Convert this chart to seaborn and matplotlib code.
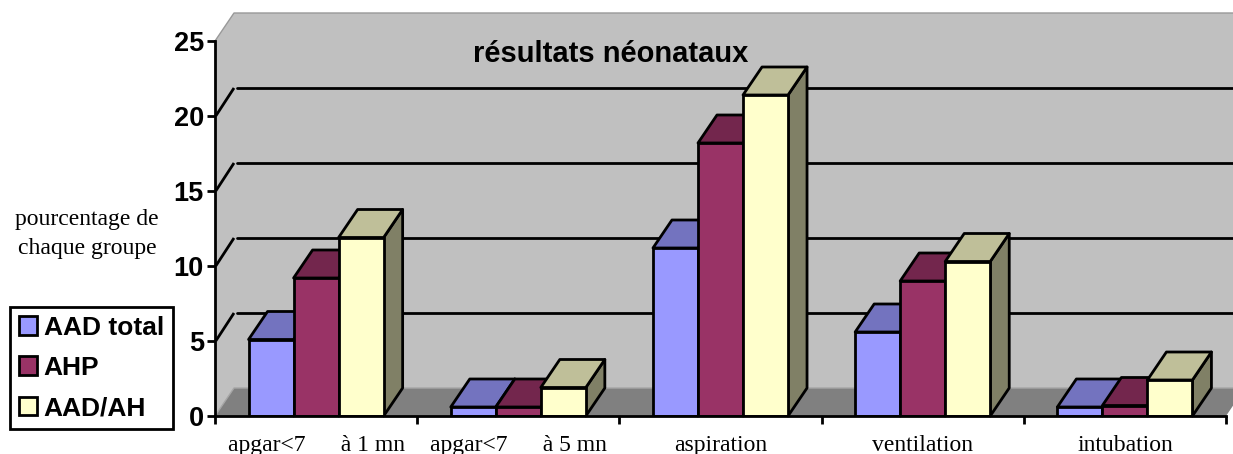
import matplotlib
matplotlib.use("Agg")
import matplotlib.pyplot as plt
import pandas as pd
import seaborn as sns
from matplotlib.colors import to_rgb

categories = ["apgar<7      à 1 mn", "apgar<7      à 5 mn", "aspiration", "ventilation", "intubation"]
aad_total = [5.1, 0.6, 11.2, 5.6, 0.6]
ahp = [9.2, 0.6, 18.2, 9.0, 0.7]
aad_ah = [11.9, 1.9, 21.4, 10.3, 2.4]
series_names = ["AAD total", "AHP", "AAD/AH"]
series_colors = ["#9999ff", "#993366", "#ffffcc"]
y_ticks = [0, 5, 10, 15, 20, 25]

WIDTH, HEIGHT = 1233, 454
LEFT, RIGHT, TOP, BOTTOM = 215, 1226, 41, 416
DEPTH_X, DEPTH_Y = 19, 28
BLACK_LW = 2.0


def shade(color, factor):
    return tuple(c * factor for c in to_rgb(color))


def main():
    sns.set_theme(style="white")
    plt.rcParams["font.family"] = ["Liberation Sans", "DejaVu Sans"]

    df = pd.DataFrame({"category": categories, "AAD total": aad_total, "AHP": ahp, "AAD/AH": aad_ah})
    long_df = df.melt(id_vars="category", var_name="series", value_name="value")

    fig = plt.figure(figsize=(WIDTH / 100, HEIGHT / 100), dpi=100)
    ax = fig.add_axes([LEFT / WIDTH, 1 - BOTTOM / HEIGHT, (RIGHT - LEFT) / WIDTH, (BOTTOM - TOP) / HEIGHT])
    ax.patch.set_visible(False)

    sns.barplot(
        data=long_df,
        x="category",
        y="value",
        hue="series",
        hue_order=series_names,
        palette=series_colors,
        width=0.668,
        gap=0,
        saturation=1,
        edgecolor="black",
        linewidth=BLACK_LW,
        ax=ax,
    )
    ax.set_xlim(-0.5, 4.5)
    ax.set_ylim(0, 25)

    # pixel depth of the fake 3D, converted to data units
    dx = DEPTH_X / ((RIGHT - LEFT) / 5)
    dy = DEPTH_Y / ((BOTTOM - TOP) / 25)
    x0, x1 = -0.5, 4.5

    # back wall and floor
    ax.fill([x0, x0 + dx, x1 + dx, x1 + dx, x0 + dx, x0], [25, 25 + dy, 25 + dy, dy, dy, 0],
            color="#c0c0c0", lw=0, clip_on=False, zorder=0.1)
    ax.fill([x0, x0 + dx, x1 + dx, x1], [0, dy, dy, 0], color="#808080", lw=0, clip_on=False, zorder=0.2)
    ax.plot([x0, x0 + dx, x1 + dx], [25, 25 + dy, 25 + dy], color="#999999", lw=1, clip_on=False, zorder=0.3)
    ax.plot([x0, x0 + dx, x1 + dx], [0, dy, dy], color="#a6a6a6", lw=1, clip_on=False, zorder=0.3)

    for v in y_ticks[1:-1]:
        ax.plot([x0 + 0.04 * dx, x0 + dx], [v, v + dy], color="black", lw=BLACK_LW, clip_on=False, zorder=0.4,
                solid_capstyle="butt")
        ax.plot([x0 + 1.15 * dx, x1 + dx], [v + dy, v + dy], color="black", lw=BLACK_LW, clip_on=False, zorder=0.4)

    # painter's order, left to right, so each front face hides the previous side
    order = 1
    bars = sorted((b for c in ax.containers for b in c), key=lambda b: b.get_x())
    for bar in bars:
        x, w, h = bar.get_x(), bar.get_width(), bar.get_height()
        color = bar.get_facecolor()[:3]
        ax.fill([x + w, x + w + dx, x + w + dx, x + w], [0, dy, h + dy, h], facecolor=shade(color, 0.5),
                edgecolor="black", lw=BLACK_LW, clip_on=False, zorder=order, joinstyle="round")
        ax.fill([x, x + dx, x + w + dx, x + w], [h, h + dy, h + dy, h], facecolor=shade(color, 0.75),
                edgecolor="black", lw=BLACK_LW, clip_on=False, zorder=order, joinstyle="round")
        bar.set_zorder(order + 0.5)
        order += 1

    sns.despine(ax=ax, top=True, right=True)
    for side in ("left", "bottom"):
        ax.spines[side].set_linewidth(BLACK_LW)
        ax.spines[side].set_color("black")
        ax.spines[side].set_zorder(100)

    ax.set_xlabel("")
    ax.set_ylabel("")
    ax.set_yticks(y_ticks)
    ax.set_xticks([x - 0.5 for x in range(6)], minor=False)
    ax.set_xticklabels([""] * 6)
    ax.tick_params(axis="y", left=True, length=6, width=BLACK_LW, color="black", pad=2, labelsize=19.5,
                   labelcolor="black")
    ax.tick_params(axis="x", bottom=True, length=6, width=BLACK_LW, color="black")
    for label in ax.get_yticklabels():
        label.set_fontweight("bold")
    for i, name in enumerate(categories):
        ax.annotate(name, xy=(i, 0), xytext=(0, -19), xycoords=("data", "axes fraction"), textcoords="offset pixels",
                    ha="center", va="top", family="Liberation Serif", fontsize=17, color="black", annotation_clip=False)

    fig.text(611 / WIDTH, 1 - 54 / HEIGHT, "résultats néonataux", ha="center", va="center", fontsize=21,
             fontweight="bold", color="black")
    fig.text(87 / WIDTH, 1 - 234 / HEIGHT, "pourcentage de\nchaque groupe", ha="center", va="center",
             family="Liberation Serif", fontsize=17, color="black", linespacing=1.5)

    handles, labels = ax.get_legend_handles_labels()
    ax.get_legend().remove()
    legend = fig.legend(
        handles, labels,
        loc="lower left",
        bbox_to_anchor=(10 / WIDTH, 1 - 429 / HEIGHT),
        borderaxespad=0,
        frameon=True,
        fancybox=False,
        edgecolor="black",
        framealpha=1,
        prop={"family": "Liberation Sans", "weight": "bold", "size": 19},
        handlelength=0.7,
        handleheight=0.7,
        handletextpad=0.25,
        labelspacing=0.62,
        borderpad=0.33,
    )
    legend.get_frame().set_linewidth(BLACK_LW)
    for text in legend.get_texts():
        text.set_color("black")

    fig.savefig("out.png", dpi=100)


if __name__ == "__main__":
    main()
